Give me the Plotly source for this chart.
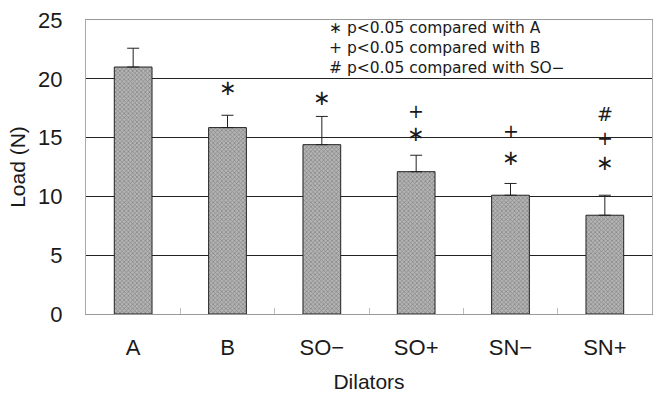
import plotly.graph_objects as go

categories = ["A", "B", "SO−", "SO+", "SN−", "SN+"]
load_mean = [21.0, 15.85, 14.4, 12.1, 10.1, 8.4]
load_err = [1.6, 1.05, 2.4, 1.4, 1.0, 1.7]

# significance markers: (category, symbol, y position in N)
sig_cats = ["B", "SO−", "SO+", "SO+", "SN−", "SN−", "SN+", "SN+", "SN+"]
sig_syms = ["∗", "∗", "+", "∗", "+", "∗", "#", "+", "∗"]
sig_y = [19.2, 18.4, 17.3, 15.3, 15.6, 13.3, 17.0, 15.0, 12.8]

legend_lines = ["∗ p<0.05 compared with A",
                "+ p<0.05 compared with B",
                "# p<0.05 compared with SO−"]

font_main = "Liberation Sans, Arial, sans-serif"

fig = go.Figure()
fig.add_trace(go.Bar(
    x=categories, y=load_mean, width=0.4,
    marker=dict(color="#a0a0a0",
                line=dict(color="#222", width=1),
                pattern=dict(shape="x", size=3, solidity=0.4,
                             fgcolor="#505050", bgcolor="#b4b4b4")),
    error_y=dict(type="data", symmetric=False, array=load_err,
                 arrayminus=[0]*len(load_err),
                 color="#222", thickness=1, width=6),
    showlegend=False,
))

for c, s, yv in zip(sig_cats, sig_syms, sig_y):
    fig.add_annotation(x=c, y=yv, text=s, showarrow=False,
                       font=dict(size=21 if s == "∗" else 19, color="#1a1a1a",
                                 family="DejaVu Sans, sans-serif"),
                       xanchor="center", yanchor="middle")

fig.add_annotation(xref="paper", yref="paper", x=0.425, y=1.01,
                   xanchor="left", yanchor="top", align="left",
                   text="<br>".join(legend_lines), showarrow=False,
                   font=dict(size=15.5, color="#1a1a1a", family="DejaVu Sans, sans-serif"))

fig.update_layout(
    width=656, height=397,
    margin=dict(l=86, r=4, t=20, b=83),
    plot_bgcolor="white", paper_bgcolor="white",
    font=dict(family=font_main, color="#1a1a1a"),
    bargap=0.6,
)
fig.update_yaxes(range=[0, 25], tickvals=[0, 5, 10, 15, 20, 25],
                 showgrid=True, gridcolor="#222", gridwidth=1,
                 zeroline=False, showline=True, linecolor="#aaa", mirror=True,
                 ticks="", ticklabelstandoff=18,
                 tickfont=dict(size=22),
                 title=dict(text="Load (N)", font=dict(size=21), standoff=6))
fig.update_xaxes(showline=True, linecolor="#999", mirror=True,
                 ticks="inside", tickson="boundaries", ticklen=6, tickcolor="#bbb",
                 tickfont=dict(size=22), ticklabelstandoff=14,
                 title=dict(text="Dilators", font=dict(size=21), standoff=14))

fig.write_html("out.html")
